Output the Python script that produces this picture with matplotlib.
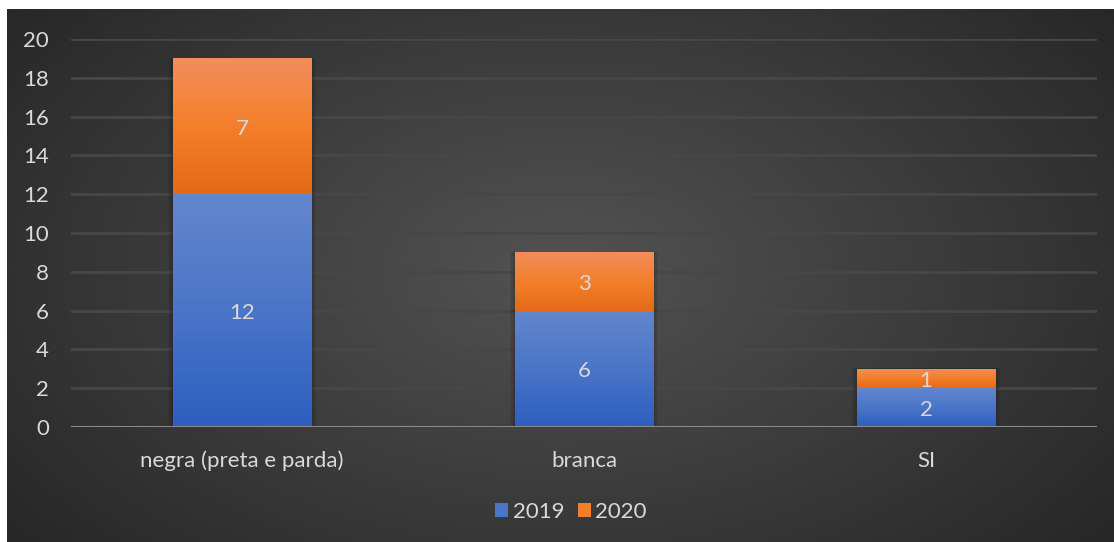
import numpy as np
import matplotlib
import matplotlib.pyplot as plt
from matplotlib.colors import LinearSegmentedColormap
from matplotlib.patches import Rectangle

matplotlib.use("Agg")

plt.rcParams['font.family'] = ['Lato', 'DejaVu Sans']

categories = ["negra (preta e parda)", "branca", "SI"]
series_names = ["2019", "2020"]
values_2019 = [12, 6, 2]
values_2020 = [7, 3, 1]
y_ticks = [0, 2, 4, 6, 8, 10, 12, 14, 16, 18, 20]

text_color = "#d9d9d9"
font_size = 16
blue_grad = LinearSegmentedColormap.from_list("blue", ["#2d5fbf", "#4a75c8", "#6387cd"])
orange_grad = LinearSegmentedColormap.from_list("orange", ["#e36a16", "#f47f2b", "#f28e5c"])

fig = plt.figure(figsize=(11.14, 5.42), dpi=100)
fig.patch.set_facecolor("white")

# dark radial background panel
bg = fig.add_axes([7 / 1114, 0, 1107 / 1114, 533 / 542])
bg.set_axis_off()
yy, xx = np.mgrid[0:533, 0:1107]
r = np.sqrt(((xx - 553) / 700.0) ** 2 + ((yy - 260) / 420.0) ** 2)
r = np.clip(r, 0, 1)
shade = 0.325 - 0.17 * r
bg.imshow(np.dstack([shade, shade, shade]), aspect="auto", extent=[0, 1, 0, 1])
bg.set_xlim(0, 1)
bg.set_ylim(0, 1)

ax = fig.add_axes([71 / 1114, 1 - 427 / 542, 1026 / 1114, 388 / 542])
ax.patch.set_alpha(0)
x = np.arange(len(categories))
width = 0.404

def gradient_bar(xc, bottom, height, cmap):
    # soft shadow
    for k, a in zip([0.02, 0.035, 0.05], [0.10, 0.07, 0.04]):
        ax.add_patch(Rectangle((xc - width / 2 - k * 0.3, bottom - k), width + k * 0.6,
                               height + 2 * k, facecolor="black", alpha=a,
                               edgecolor="none", zorder=2))
    bar = ax.bar(xc, height, width, bottom=bottom, color="none", zorder=3)[0]
    grad = np.linspace(0, 1, 256).reshape(-1, 1)
    im = ax.imshow(grad, cmap=cmap, aspect="auto", origin="lower",
                   extent=[xc - width / 2, xc + width / 2, bottom, bottom + height],
                   zorder=3)
    im.set_clip_path(bar)

for i in range(len(categories)):
    gradient_bar(x[i], 0, values_2019[i], blue_grad)
    gradient_bar(x[i], values_2019[i], values_2020[i], orange_grad)
    ax.text(x[i], values_2019[i] / 2 - 0.12, str(values_2019[i]), ha="center", va="center",
            color=text_color, fontsize=font_size, zorder=5)
    ax.text(x[i], values_2019[i] + values_2020[i] / 2 - 0.12, str(values_2020[i]), ha="center",
            va="center", color=text_color, fontsize=font_size, zorder=5)

ax.set_xlim(-0.5, len(categories) - 0.5)
ax.set_ylim(0, 20)
ax.set_yticks(y_ticks)
ax.set_yticklabels([str(t) for t in y_ticks])
ax.set_xticks(x)
ax.set_xticklabels(categories)
ax.tick_params(axis="both", length=0, colors=text_color, labelsize=font_size)
ax.tick_params(axis="y", pad=16)
ax.tick_params(axis="x", pad=17)
for s in ax.spines.values():
    s.set_visible(False)
ax.grid(axis="y", color="#474747", linewidth=2, zorder=1)
ax.set_axisbelow(True)
ax.axhline(0, color="#8a8a8a", linewidth=2.2, zorder=4)

handles = [Rectangle((0, 0), 1, 1, facecolor="#4a75c8"), Rectangle((0, 0), 1, 1, facecolor="#f47f2b")]
leg = fig.legend(handles, series_names, loc="center", bbox_to_anchor=(571 / 1114, 1 - 512 / 542),
                 ncol=2, frameon=False, fontsize=font_size, handlelength=0.6, handleheight=0.6,
                 handletextpad=0.2, columnspacing=0.6)
for t in leg.get_texts():
    t.set_color(text_color)

fig.savefig("out.png", dpi=100)
